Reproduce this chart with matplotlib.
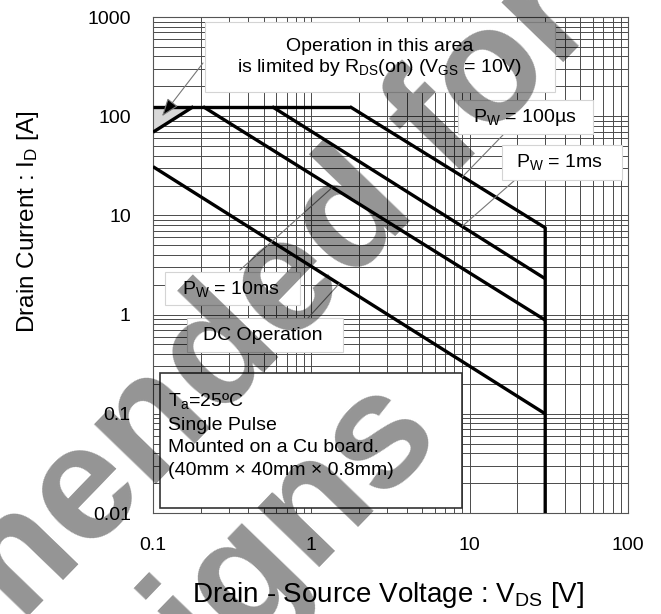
import matplotlib
matplotlib.use('Agg')
import matplotlib.pyplot as plt
import matplotlib.ticker as tick
from matplotlib.patches import Rectangle

plt.rcParams['font.family'] = ['Liberation Sans', 'DejaVu Sans']
plt.rcParams['mathtext.default'] = 'regular'

# Safe operating area boundaries: V_DS [V], I_D [A]
limit_v = [0.1, 1.75]
limit_i = [125, 125]
rds_v = [0.1, 0.18]
rds_i = [69, 125]
pw100us_v = [1.75, 30, 30]
pw100us_i = [125, 7.5, 0.01]
pw1ms_v = [0.565, 30]
pw1ms_i = [125, 2.3]
pw10ms_v = [0.207, 30]
pw10ms_i = [125, 0.88]
dc_v = [0.1, 30]
dc_i = [31, 0.1]

x_ticks = [0.1, 1, 10, 100]
x_labels = ['0.1', '1', '10', '100']
y_ticks = [0.01, 0.1, 1, 10, 100, 1000]
y_labels = ['0.01', '0.1', '1', '10', '100', '1000']

W, H = 661, 614


def fp(x, y):
    """pixel position (from top-left) -> figure fraction"""
    return (x / W, 1 - y / H)


fig = plt.figure(figsize=(W / 100, H / 100), dpi=100)
ax = fig.add_axes([153 / W, 1 - 513 / H, 475 / W, 496 / H])
ax.set_xscale('log')
ax.set_yscale('log')
ax.set_xlim(0.1, 100)
ax.set_ylim(0.01, 1000)

ax.set_xticks(x_ticks)
ax.set_xticklabels(x_labels)
ax.set_yticks(y_ticks)
ax.set_yticklabels(y_labels)
for a in (ax.xaxis, ax.yaxis):
    a.set_minor_locator(tick.LogLocator(base=10, subs=range(2, 10), numticks=20))
    a.set_minor_formatter(tick.NullFormatter())
ax.tick_params(which='both', length=0)
ax.tick_params(axis='x', labelsize=14, pad=17)
ax.tick_params(axis='y', labelsize=14, pad=16)
ax.grid(True, which='both', color='#4a4a4a', lw=0.7)
ax.set_axisbelow(True)
for s in ax.spines.values():
    s.set_color('#555555')
    s.set_linewidth(0.8)

# shaded R_DS(on) limited region
ax.fill_between(rds_v, rds_i, limit_i[0], color='#d8d8d8', zorder=2)

lw = 2.4
for v, i in [(limit_v, limit_i), (rds_v, rds_i), (pw100us_v, pw100us_i),
             (pw1ms_v, pw1ms_i), (pw10ms_v, pw10ms_i), (dc_v, dc_i)]:
    ax.plot(v, i, color='black', lw=lw, solid_capstyle='butt', zorder=3)

# leader lines from label boxes to curves
leaders = [((9, 24.5), (503, 135)), ((9, 7.8), (515, 180)),
           ((1.35, 19), (240, 270)), ((1.5, 2.05), (308, 318))]
for xy, p in leaders:
    ax.annotate('', xy=xy, xycoords='data', xytext=fp(*p), textcoords='figure fraction',
                arrowprops=dict(arrowstyle='-', color='#777777', lw=0.8,
                                shrinkA=0, shrinkB=0), zorder=4)
ax.annotate('', xy=(0.114, 100), xycoords='data', xytext=fp(203, 63),
            textcoords='figure fraction',
            arrowprops=dict(arrowstyle='-|>,head_length=1.1,head_width=0.4',
                            fc='black', ec='#777777', lw=0.8, shrinkA=0, shrinkB=0),
            zorder=4)

# white label boxes
boxes = [(205, 22, 555, 92), (458, 100, 593, 134), (502, 145, 622, 180),
         (165, 272, 300, 305), (187, 318, 343, 352)]
for x0, y0, x1, y1 in boxes:
    fig.patches.append(Rectangle(fp(x0, y1), (x1 - x0) / W, (y1 - y0) / H,
                                 transform=fig.transFigure, fc='white',
                                 ec='#d4d4d4', lw=0.8, zorder=2))
fig.patches.append(Rectangle(fp(160, 508), (462 - 160) / W, (508 - 373) / H,
                             transform=fig.transFigure, fc='white',
                             ec='#333333', lw=1.2, zorder=2))

fs = 14
fig.text(*fp(380, 58), 'Operation in this area\nis limited by R$_{DS}$(on) (V$_{GS}$ = 10V)',
         ha='center', va='center', fontsize=fs, linespacing=1.15, zorder=3)
fig.text(*fp(525, 117), 'P$_W$ = 100µs', ha='center', va='center', fontsize=fs, zorder=3)
fig.text(*fp(560, 162), 'P$_W$ = 1ms', ha='center', va='center', fontsize=fs, zorder=3)
fig.text(*fp(231, 289), 'P$_W$ = 10ms', ha='center', va='center', fontsize=fs, zorder=3)
fig.text(*fp(263, 336), 'DC Operation', ha='center', va='center', fontsize=fs, zorder=3)
fig.text(*fp(168, 435), 'T$_a$=25ºC\nSingle Pulse\nMounted on a Cu board.\n(40mm × 40mm × 0.8mm)',
         ha='left', va='center', fontsize=fs, linespacing=1.45, zorder=3)

fig.text(*fp(28, 222), 'Drain Current : I$_D$ [A]', rotation=90,
         ha='center', va='center', fontsize=17.5)
fig.text(*fp(388, 595), 'Drain - Source Voltage : V$_{DS}$ [V]',
         ha='center', va='center', fontsize=20)

# watermark
wm = dict(fontsize=117, fontweight='bold', color='black', alpha=0.42,
          rotation=46, rotation_mode='anchor', ha='right', va='baseline', zorder=10)
fig.text(*fp(600, 24), 'Not recommended for', **wm)
fig.text(*fp(444, 438), 'new designs', **wm)

fig.savefig('out.png', dpi=100)
